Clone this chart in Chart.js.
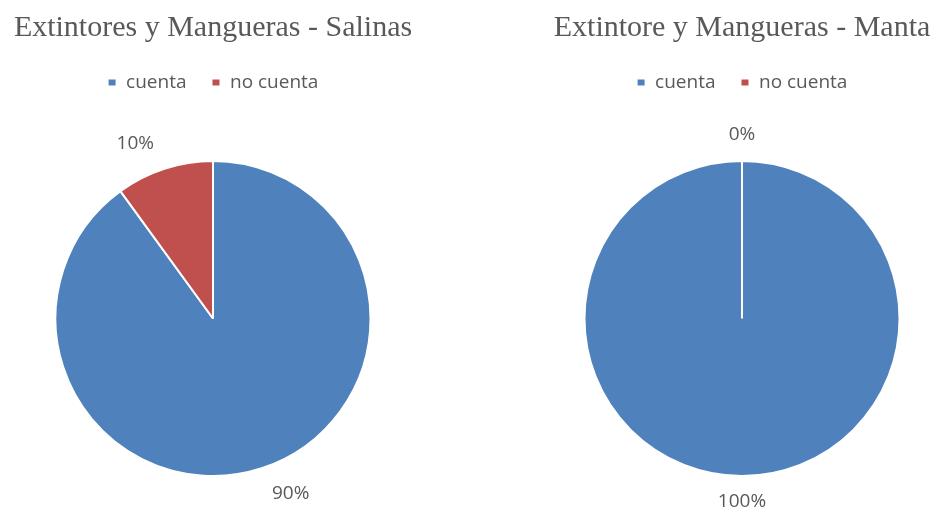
<!DOCTYPE html>
<html>
<head>
<meta charset="utf-8">
<script src="https://cdn.jsdelivr.net/npm/chart.js@4.4.1/dist/chart.umd.min.js"></script>
<style>
    body { margin: 0; background: #ffffff; overflow: hidden; }
    .box { position: absolute; top: 0; }
    #left { left: 0; }
    #right { left: 548px; }
</style>
</head>
<body>
<div class="box" id="left"><canvas id="salinasChart" width="426" height="509"></canvas></div>
<div class="box" id="right"><canvas id="mantaChart" width="388" height="509"></canvas></div>

<script>
const categories = ["cuenta", "no cuenta"];
const salinasValues = [90, 10];
const mantaValues = [100, 0];
const titles = ["Extintores y Mangueras - Salinas", "Extintore y Mangueras - Manta"];
const sliceColors = ["#4F81BD", "#C0504D"];

const textGrey = "#595959";
const sansFont = "'Open Sans', 'DejaVu Sans', sans-serif";

// push the pie down below the legend
const legendSpacer = {
    id: "legendSpacer",
    beforeInit(chart) {
        const fit = chart.legend.fit;
        chart.legend.fit = function () {
            fit.call(this);
            this.height += 58;
        };
    }
};

// percentage labels outside the pie, like Excel's
const outsideLabels = {
    id: "outsideLabels",
    afterDatasetsDraw(chart) {
        const ctx = chart.ctx;
        const meta = chart.getDatasetMeta(0);
        const values = chart.data.datasets[0].data;
        const total = values.reduce((a, b) => a + b, 0);

        ctx.save();
        ctx.font = "19px " + sansFont;
        ctx.fillStyle = textGrey;
        ctx.textAlign = "center";
        ctx.textBaseline = "middle";

        meta.data.forEach((arc, i) => {
            const p = arc.getProps(["x", "y", "startAngle", "endAngle", "outerRadius"], true);
            const mid = (p.startAngle + p.endAngle) / 2;
            const dx = Math.cos(mid);
            const dy = Math.sin(mid);
            const text = Math.round(values[i] / total * 100) + "%";
            const w = ctx.measureText(text).width + 12;
            const h = 24;
            const ax = p.x + dx * (p.outerRadius + 14);
            const ay = p.y + dy * (p.outerRadius + 14);
            const sx = Math.abs(dx) < 0.01 ? 0 : Math.sign(dx);
            const sy = Math.abs(dy) < 0.01 ? 0 : Math.sign(dy);
            ctx.fillText(text, ax + sx * w / 2, ay + sy * h / 2);
        });
        ctx.restore();
    }
};

function makePie(canvasId, title, values) {
    const ctx = document.getElementById(canvasId).getContext("2d");
    return new Chart(ctx, {
        type: "pie",
        data: {
            labels: categories,
            datasets: [{
                data: values,
                backgroundColor: sliceColors,
                borderColor: "#ffffff",
                borderWidth: 2
            }]
        },
        options: {
            responsive: false,
            animation: false,
            layout: { padding: { bottom: 32 } },
            plugins: {
                title: {
                    display: true,
                    text: title,
                    color: textGrey,
                    font: { family: "'Liberation Serif', 'Times New Roman', serif", size: 30, weight: "normal" },
                    padding: { top: 10, bottom: 2 }
                },
                legend: {
                    position: "top",
                    labels: {
                        color: textGrey,
                        font: { family: sansFont, size: 19 },
                        boxWidth: 9,
                        boxHeight: 8,
                        padding: 25
                    }
                },
                tooltip: { enabled: false }
            }
        },
        plugins: [legendSpacer, outsideLabels]
    });
}

makePie("salinasChart", titles[0], salinasValues);
makePie("mantaChart", titles[1], mantaValues);
</script>
</body>
</html>
